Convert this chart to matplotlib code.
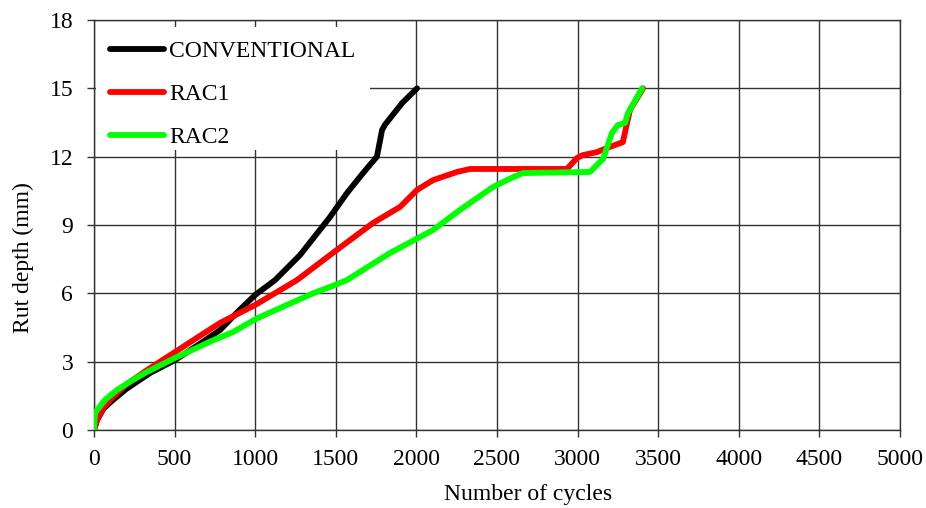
import matplotlib
matplotlib.use("Agg")
import matplotlib.pyplot as plt
from matplotlib.patches import Rectangle

plt.rcParams['font.family'] = ['Liberation Serif', 'DejaVu Serif']

conv_x = [0, 19, 60, 118, 200, 347, 502, 650, 782, 900, 1000, 1123, 1278, 1464, 1569, 1669, 1755, 1787, 1805, 1911, 2004]
conv_y = [0, 0.44, 0.95, 1.32, 1.8, 2.5, 3.07, 3.75, 4.39, 5.25, 5.93, 6.58, 7.68, 9.35, 10.4, 11.28, 12.0, 13.17, 13.4, 14.35, 15.0]

rac1_x = [0, 19, 60, 118, 200, 329, 502, 650, 782, 1000, 1259, 1464, 1731, 1898, 2004, 2103, 2252, 2333, 2934, 2996, 3033, 3120, 3182, 3281, 3300, 3325, 3406]
rac1_y = [0, 0.44, 1.0, 1.45, 2.0, 2.63, 3.42, 4.1, 4.7, 5.49, 6.58, 7.68, 9.09, 9.79, 10.54, 10.97, 11.33, 11.46, 11.46, 11.94, 12.07, 12.2, 12.38, 12.64, 13.26, 14.05, 15.0]

rac2_x = [0, 6, 68, 143, 242, 329, 502, 720, 862, 1011, 1197, 1359, 1464, 1569, 1836, 2103, 2270, 2475, 2599, 2661, 3077, 3158, 3213, 3250, 3294, 3312, 3387, 3400]
rac2_y = [0, 0.75, 1.32, 1.76, 2.2, 2.55, 3.16, 3.88, 4.3, 4.9, 5.49, 6.0, 6.28, 6.58, 7.77, 8.78, 9.66, 10.67, 11.1, 11.28, 11.33, 11.9, 13.04, 13.39, 13.48, 13.9, 14.84, 15.0]

labels = ['CONVENTIONAL', 'RAC1', 'RAC2']
colors = ['#000000', '#FF0000', '#00FF00']

xticks = [0, 500, 1000, 1500, 2000, 2500, 3000, 3500, 4000, 4500, 5000]
yticks = [0, 3, 6, 9, 12, 15, 18]

fig = plt.figure(figsize=(9.26, 5.08), dpi=100)
ax = fig.add_axes([94/926, 78/508, 806/926, 410/508])

fs = 17
ax.set_xlim(0, 5000)
ax.set_ylim(0, 18)
ax.set_xticks(xticks)
ax.set_yticks(yticks)
ax.tick_params(axis='both', labelsize=fs, direction='out', length=5, width=1, color='#333333')
ax.tick_params(axis='x', pad=9)
ax.tick_params(axis='y', pad=10)
ax.grid(True, color='#333333', linewidth=1)
ax.set_axisbelow(True)
for s in ax.spines.values():
    s.set_color('#333333')
    s.set_linewidth(1)

# white legend background hiding grid
ax.add_patch(Rectangle((0.002, 0.683), 0.34, 0.3, transform=ax.transAxes,
                       facecolor='white', edgecolor='none', zorder=1.5))

series = [(conv_x, conv_y), (rac1_x, rac1_y), (rac2_x, rac2_y)]
handles = []
for (xs, ys), lab, c in zip(series, labels, colors):
    h, = ax.plot(xs, ys, color=c, linewidth=4.2, solid_joinstyle='round', solid_capstyle='round', label=lab, zorder=3)
    handles.append(h)

ax.legend(handles=handles, loc='upper left', bbox_to_anchor=(0.02, 0.949), frameon=False,
          fontsize=fs, handlelength=2.3, handletextpad=0.2, labelspacing=0.9,
          borderpad=0, borderaxespad=0)

ax.set_xlabel('Number of cycles', fontsize=fs)
ax.set_ylabel('Rut depth (mm)', fontsize=fs)
ax.xaxis.set_label_coords(0.538, -0.158)
ax.yaxis.set_label_coords(-0.088, 0.42)
ax.xaxis.label.set_verticalalignment('center')
ax.yaxis.label.set_verticalalignment('center')

fig.savefig('out.png', dpi=100)
